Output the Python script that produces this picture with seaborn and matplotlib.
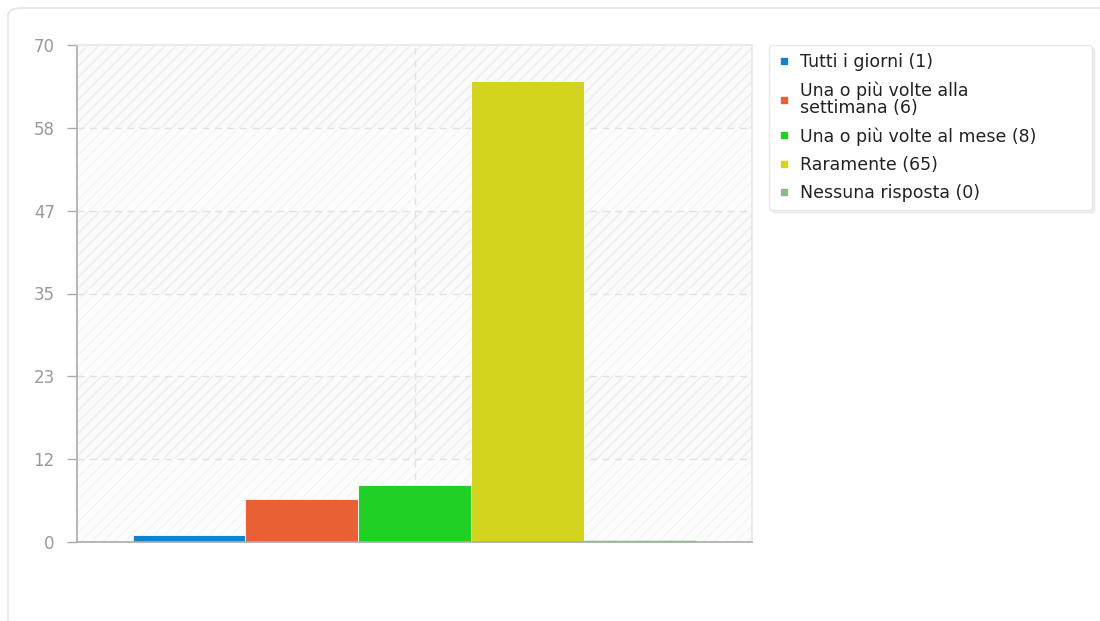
import matplotlib
matplotlib.use("Agg")
import matplotlib.pyplot as plt
import seaborn as sns
import pandas as pd
import numpy as np
from matplotlib.patches import FancyBboxPatch
from matplotlib.lines import Line2D

# data
categories = ["Tutti i giorni (1)",
              "Una o più volte alla\nsettimana (6)",
              "Una o più volte al mese (8)",
              "Raramente (65)",
              "Nessuna risposta (0)"]
values = [1, 6, 8, 65, 0]
colors = ["#1282cc", "#e86034", "#20d024", "#d3d41d", "#8ab98a"]
ytick_labels = ["0", "12", "23", "35", "47", "58", "70"]
ymax = 70

sns.set_theme(style="white")
plt.rcParams['font.family'] = ['DejaVu Sans']
plt.rcParams['font.sans-serif'] = ['DejaVu Sans']
plt.rcParams['hatch.linewidth'] = 0.6

df = pd.DataFrame({"grp": [""] * len(values), "cat": categories, "val": values})

fig = plt.figure(figsize=(11, 6.21), dpi=100)
fig.patch.set_facecolor("white")

# card border around the chart
card = FancyBboxPatch((8 / 1100, -0.05), 1.2, 1 - 8 / 621 + 0.05,
                      boxstyle="round,pad=0,rounding_size=0.012",
                      transform=fig.transFigure, facecolor="white",
                      edgecolor="#e4e4e4", linewidth=1.2, zorder=-5)
fig.patches.append(card)

ax = fig.add_axes([77 / 1100, 1 - 542 / 621, (752 - 77) / 1100, (542 - 45) / 621])
ax.set_zorder(2)
ax.set_facecolor("#fafafa")

# hatched background with alternating lighter bands
ticks = np.linspace(0, ymax, len(ytick_labels))
ax.axhspan(0, ymax, facecolor="none", edgecolor="#e6e6e6", hatch="///", linewidth=0, zorder=0)
for i in range(0, len(ticks) - 1, 2):
    ax.axhspan(ticks[i], ticks[i + 1], facecolor="white", alpha=0.45, linewidth=0, zorder=0.5)

sns.barplot(data=df, x="grp", y="val", hue="cat", palette=colors, width=0.835,
            saturation=1, dodge=True, ax=ax, legend=False, zorder=3,
            edgecolor="#ffffff", linewidth=0.6)
for patch in ax.patches:
    if patch.get_height() == 0:
        patch.set_edgecolor(patch.get_facecolor())
        patch.set_linewidth(2.5)
        patch.set_zorder(5)

ax.set_xlim(-0.5, 0.5)
ax.set_ylim(0, ymax)
ax.set_yticks(ticks)
ax.set_yticklabels(ytick_labels, color="#999999", fontsize=12, family="DejaVu Sans")
ax.set_xticks([0])
ax.set_xticklabels([])
ax.set_xlabel("")
ax.set_ylabel("")
ax.tick_params(axis="y", length=7, width=1, color="#aaaaaa", pad=9, left=True)
ax.tick_params(axis="x", length=0)

for t in ticks[1:-1]:
    ax.axhline(t, color="#e2e2e2", linestyle=(0, (5, 4)), linewidth=1, zorder=1)
ax.axvline(0, color="#e2e2e2", linestyle=(0, (5, 4)), linewidth=1, zorder=1)

ax.spines["left"].set_color("#aaaaaa")
ax.spines["bottom"].set_color("#aaaaaa")
ax.spines["top"].set_color("#e6e6e6")
ax.spines["right"].set_color("#e6e6e6")
for s in ax.spines.values():
    s.set_linewidth(1.2)
    s.set_zorder(4)

handles = [Line2D([], [], marker="s", linestyle="none", markersize=4.5,
                  markerfacecolor=c, markeredgecolor=c) for c in colors]
leg = fig.legend(handles, categories, loc="upper left",
                 bbox_to_anchor=(769 / 1100, 1 - 214 / 621, 323 / 1100, 169 / 621),
                 mode="expand", frameon=True, prop={"family": "DejaVu Sans", "size": 12.5},
                 handlelength=0.8, handletextpad=0.55, labelspacing=0.6, borderpad=0.45,
                 fancybox=True, shadow={"color": "black", "alpha": 0.05}, borderaxespad=0)
leg.get_frame().set_edgecolor("#e6e6e6")
leg.get_frame().set_linewidth(1)
for txt in leg.get_texts():
    txt.set_color("#222222")
    txt.set_linespacing(0.92)

fig.savefig("out.png", dpi=100)
